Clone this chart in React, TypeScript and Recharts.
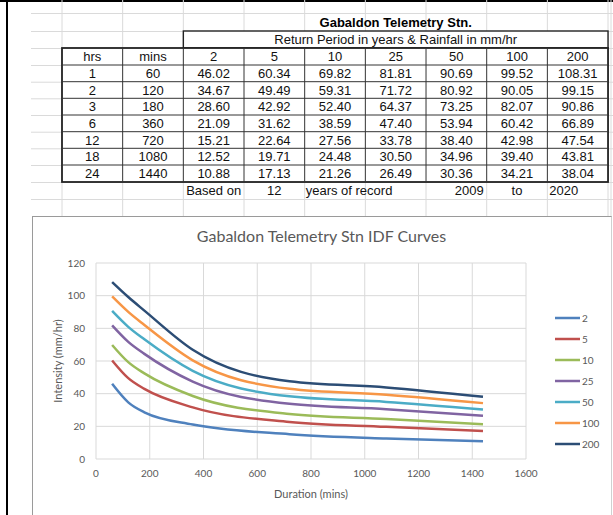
import React from "react";
import { LineChart, Line, XAxis, YAxis, CartesianGrid, Legend } from "recharts";

const stationTitle = "Gabaldon Telemetry Stn.";
const headerText = "Return Period in years & Rainfall in mm/hr";
const chartTitle = "Gabaldon Telemetry Stn IDF Curves";
const hrs = [1, 2, 3, 6, 12, 18, 24];
const mins = [60, 120, 180, 360, 720, 1080, 1440];
const returnPeriods = ["2", "5", "10", "25", "50", "100", "200"];
const rp2 = [46.02, 34.67, 28.6, 21.09, 15.21, 12.52, 10.88];
const rp5 = [60.34, 49.49, 42.92, 31.62, 22.64, 19.71, 17.13];
const rp10 = [69.82, 59.31, 52.4, 38.59, 27.56, 24.48, 21.26];
const rp25 = [81.81, 71.72, 64.37, 47.4, 33.78, 30.5, 26.49];
const rp50 = [90.69, 80.92, 73.25, 53.94, 38.4, 34.96, 30.36];
const rp100 = [99.52, 90.05, 82.07, 60.42, 42.98, 39.4, 34.21];
const rp200 = [108.31, 99.15, 90.86, 66.89, 47.54, 43.81, 38.04];
const seriesValues = [rp2, rp5, rp10, rp25, rp50, rp100, rp200];
const colors = ["#4F81BD", "#C0504D", "#9BBB59", "#8064A2", "#4BACC6", "#F79646", "#2C4D75"];
const recordYears = 12;
const recordFrom = 2009;
const recordTo = 2020;
const xTicks = [0, 200, 400, 600, 800, 1000, 1200, 1400, 1600];
const yTicks = [0, 20, 40, 60, 80, 100, 120];

const chartData = mins.map((m, i) => {
  const row: Record<string, number> = { mins: m };
  returnPeriods.forEach((rp, s) => {
    row["rp" + rp] = seriesValues[s][i];
  });
  return row;
});

// Table geometry
const colX0 = 62;
const colW = 60.67;
const colXs = Array.from({ length: 10 }, (_, i) => colX0 + i * colW);
const rowYs = [13, 31, 48, 65, 81.7, 98.3, 115, 131.7, 148.3, 165, 182, 199, 216];
const gridColor = "#DADADA";

function Table() {
  const font = "'Liberation Sans', Arial, sans-serif";
  const cx = (c: number) => colXs[c] + colW / 2;
  const cy = (r: number) => (rowYs[r] + rowYs[r + 1]) / 2 + 4.5;
  const headerCells = ["hrs", "mins", ...returnPeriods];
  return (
    <svg width={613} height={216} style={{ position: "absolute", left: 0, top: 0 }}>
      {rowYs.map((y, i) => (
        <line key={"h" + i} x1={31} x2={613} y1={y + 0.5} y2={y + 0.5} stroke={gridColor} strokeWidth={1} />
      ))}
      {colXs.map((x, i) => (
        <line key={"v" + i} x1={x} x2={x} y1={0} y2={216} stroke={gridColor} strokeWidth={1} />
      ))}
      <line x1={611} x2={611} y1={0} y2={216} stroke={gridColor} strokeWidth={1} />
      {/* Return period header box */}
      <rect x={colXs[2]} y={rowYs[1]} width={colXs[9] - colXs[2]} height={rowYs[2] - rowYs[1]} fill="white" stroke="#222" strokeWidth={1.4} />
      {/* Main table */}
      <rect x={colXs[0]} y={rowYs[2]} width={colXs[9] - colXs[0]} height={rowYs[10] - rowYs[2]} fill="white" stroke="#222" strokeWidth={1.8} />
      {colXs.slice(1, 9).map((x, i) => (
        <line key={"tv" + i} x1={x} x2={x} y1={rowYs[2]} y2={rowYs[10]} stroke="#333" strokeWidth={1} />
      ))}
      {rowYs.slice(3, 10).map((y, i) => (
        <line key={"th" + i} x1={colXs[0]} x2={colXs[9]} y1={y} y2={y} stroke="#333" strokeWidth={1} />
      ))}
      <text x={(colXs[2] + colXs[9]) / 2} y={cy(0)} textAnchor="middle" fontFamily={font} fontSize={13} fontWeight="bold" fill="#000">
        {stationTitle}
      </text>
      <text x={(colXs[2] + colXs[9]) / 2} y={cy(1)} textAnchor="middle" fontFamily={font} fontSize={13} fill="#111">
        {headerText}
      </text>
      {headerCells.map((h, c) => (
        <text key={"hc" + c} x={cx(c)} y={cy(2)} textAnchor="middle" fontFamily={font} fontSize={13} fill="#111">
          {h}
        </text>
      ))}
      {hrs.map((h, r) => (
        <g key={"r" + r}>
          <text x={cx(0)} y={cy(3 + r)} textAnchor="middle" fontFamily={font} fontSize={13} fill="#111">{h}</text>
          <text x={cx(1)} y={cy(3 + r)} textAnchor="middle" fontFamily={font} fontSize={13} fill="#111">{mins[r]}</text>
          {seriesValues.map((s, c) => (
            <text key={c} x={cx(2 + c)} y={cy(3 + r)} textAnchor="middle" fontFamily={font} fontSize={13} fill="#111">
              {s[r].toFixed(2)}
            </text>
          ))}
        </g>
      ))}
      <text x={cx(2)} y={cy(10)} textAnchor="middle" fontFamily={font} fontSize={13} fill="#111">Based on</text>
      <text x={cx(3)} y={cy(10)} textAnchor="middle" fontFamily={font} fontSize={13} fill="#111">{recordYears}</text>
      <text x={colXs[4] + 1} y={cy(10)} textAnchor="start" fontFamily={font} fontSize={13} fill="#111">years of record</text>
      <text x={colXs[7] - 3} y={cy(10)} textAnchor="end" fontFamily={font} fontSize={13} fill="#111">{recordFrom}</text>
      <text x={cx(7)} y={cy(10)} textAnchor="middle" fontFamily={font} fontSize={13} fill="#111">to</text>
      <text x={colXs[8] + 2} y={cy(10)} textAnchor="start" fontFamily={font} fontSize={13} fill="#111">{recordTo}</text>
    </svg>
  );
}

const renderLegend = () => (
  <div style={{ fontFamily: "Lato, sans-serif", fontSize: 10, color: "#595959" }}>
    {returnPeriods.map((rp, i) => (
      <div key={rp} style={{ display: "flex", alignItems: "center", height: 20.9 }}>
        <svg width={26} height={6} style={{ display: "block" }}>
          <line x1={0} x2={25} y1={3} y2={3} stroke={colors[i]} strokeWidth={2.5} />
        </svg>
        <span style={{ marginLeft: 1 }}>{rp}</span>
      </div>
    ))}
  </div>
);

export default function App() {
  const labelFont = "Lato, sans-serif";
  return (
    <div style={{ position: "fixed", left: 0, top: 0, width: 613, height: 515, background: "#fff", overflow: "hidden" }}>
      <div style={{ position: "absolute", left: 0, top: 0, width: 613, height: 1.5, background: "#000" }} />
      <div style={{ position: "absolute", left: 6, top: 0, width: 2, height: 515, background: "#000" }} />
      <Table />
      <div style={{ position: "absolute", left: 32, top: 216, width: 578, height: 320, borderLeft: "1.5px solid #9A9A9A", borderTop: "1.5px solid #9A9A9A", borderRight: "1px solid #D0D0D0", background: "#fff" }} />
      <div style={{ position: "absolute", left: 33, top: 236, width: 577, textAlign: "center", fontFamily: labelFont, fontSize: 16, color: "#595959", lineHeight: "1", transform: "translateY(-8px)" }}>
        {chartTitle}
      </div>
      <div style={{ position: "absolute", left: 33, top: 218 }}>
        <LineChart width={577} height={297} data={chartData} margin={{ top: 45, right: 84, bottom: 0, left: 0 }}>
          <CartesianGrid stroke="#D9D9D9" strokeWidth={1} />
          <XAxis
            dataKey="mins"
            type="number"
            domain={[0, 1600]}
            ticks={xTicks}
            axisLine={false}
            tickLine={false}
            tickMargin={5}
            height={56}
            tick={{ fontSize: 10, fill: "#595959", fontFamily: labelFont }}
            label={{
              content: (props: any) => {
                const vb = props.viewBox || {};
                return (
                  <text x={vb.x + vb.width / 2} y={275} textAnchor="middle" dominantBaseline="central" fontFamily={labelFont} fontSize={11} fill="#595959">
                    Duration (mins)
                  </text>
                );
              },
            }}
          />
          <YAxis
            type="number"
            domain={[0, 120]}
            ticks={yTicks}
            axisLine={false}
            tickLine={false}
            tickMargin={5}
            width={63}
            tick={{ fontSize: 10, fill: "#595959", fontFamily: labelFont }}
            label={{
              content: (props: any) => {
                const vb = props.viewBox || {};
                const y = vb.y + vb.height / 2;
                return (
                  <text x={24} y={y} transform={`rotate(-90 24 ${y})`} textAnchor="middle" dominantBaseline="central" fontFamily={labelFont} fontSize={11} fill="#595959">
                    Intensity (mm/hr)
                  </text>
                );
              },
            }}
          />
          {returnPeriods.map((rp, i) => (
            <Line
              key={rp}
              type="monotone"
              dataKey={"rp" + rp}
              name={rp}
              stroke={colors[i]}
              strokeWidth={2.5}
              dot={false}
              activeDot={false}
              isAnimationActive={false}
            />
          ))}
          <Legend
            layout="vertical"
            align="center"
            verticalAlign="middle"
            content={renderLegend}
            wrapperStyle={{ position: "absolute", left: 522, top: 90, width: 50 }}
          />
        </LineChart>
      </div>
    </div>
  );
}
